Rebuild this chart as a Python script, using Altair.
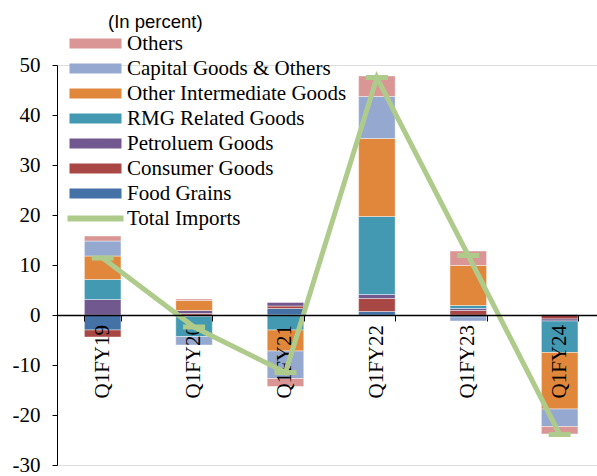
import altair as alt
import pandas as pd

categories = ["Q1FY19", "Q1FY20", "Q1FY21", "Q1FY22", "Q1FY23", "Q1FY24"]

food_grains = [-3.0, -0.3, 1.3, 0.7, -0.4, 0.1]
consumer_goods = [-1.4, 0.3, 0.5, 2.6, 0.9, -0.8]
petroleum_goods = [3.1, 0.6, 0.7, 0.8, 0.4, -0.4]
rmg_goods = [4.0, -4.0, -3.0, 15.6, 0.6, -6.3]
other_intermediate = [4.7, 2.0, -4.2, 15.6, 8.0, -11.3]
capital_goods = [3.0, -1.7, -5.5, 8.4, -0.8, -3.5]
others = [1.0, 0.3, -1.6, 4.1, 2.9, -1.5]
total_imports = [11.4, -2.4, -11.5, 47.5, 11.9, -23.9]

series_names = ["Food Grains", "Consumer Goods", "Petroluem Goods", "RMG Related Goods",
                "Other Intermediate Goods", "Capital Goods & Others", "Others"]
series_values = [food_grains, consumer_goods, petroleum_goods, rmg_goods,
                 other_intermediate, capital_goods, others]
series_colors = ["#4471a6", "#a94744", "#71598f", "#4299b1", "#e0873c", "#95a8d0", "#d99694"]
line_name = "Total Imports"
line_color = "#aecb8c"

rows = []
for i, (name, vals) in enumerate(zip(series_names, series_values)):
    for c, v in zip(categories, vals):
        rows.append({"category": c, "series": name, "value": v, "order": i})
bars_df = pd.DataFrame(rows)
line_df = pd.DataFrame({"category": categories, "value": total_imports, "series": line_name})

serif = "Liberation Serif"

x_enc = alt.X(
    "category:N", sort=categories,
    scale=alt.Scale(paddingInner=0.6, paddingOuter=0.254, align=0.59),
    axis=alt.Axis(title=None, labels=False, offset=-150, tickBand="extent", zindex=1,
                  domainColor="black", domainWidth=1.3, tickColor="black", tickSize=6),
)
y_scale = alt.Scale(domain=[-30, 50], nice=False)
y_axis = alt.Axis(title=None, values=list(range(-30, 51, 10)), grid=False,
                  labelExpr="'' + datum.value",
                  labelFont=serif, labelFontSize=21, labelColor="black",
                  domainColor="black", tickColor="black", tickSize=5, labelPadding=12)

legend_order = list(reversed(series_names))
color_order = list(reversed(series_colors))

bars = alt.Chart(bars_df).mark_bar(stroke="white", strokeWidth=0.6, strokeOpacity=0.7).encode(
    x=x_enc,
    y=alt.Y("value:Q", stack="zero", scale=y_scale, axis=y_axis),
    fill=alt.Fill("series:N", scale=alt.Scale(domain=legend_order, range=color_order),
                  legend=alt.Legend(title=None, orient="none", legendX=28, legendY=-32,
                                    symbolType="M-5.2,-1H5.2V1H-5.2Z", symbolSize=100,
                                    symbolStrokeWidth=0, labelFont=serif, labelFontSize=21,
                                    labelColor="black", labelOffset=21, rowPadding=3,
                                    labelLimit=400, padding=0)),
    order=alt.Order("order:Q"),
)

cat_labels = alt.Chart(line_df).mark_text(
    angle=270, align="right", baseline="middle", font=serif, fontSize=21,
    color="black", dx=-10,
).encode(
    x=alt.X("category:N", sort=categories),
    y=alt.datum(0),
    text="category:N",
)

line = alt.Chart(line_df).mark_line(strokeWidth=5).encode(
    x=alt.X("category:N", sort=categories),
    y=alt.Y("value:Q", scale=y_scale),
    stroke=alt.Stroke("series:N", scale=alt.Scale(domain=[line_name], range=[line_color]),
                      legend=alt.Legend(title=None, orient="none", legendX=28, legendY=143,
                                        symbolType="M-5.6,0H5.6", symbolSize=100,
                                        symbolStrokeWidth=6, labelFont=serif, labelFontSize=21,
                                        labelColor="black", labelOffset=21,
                                        labelLimit=400, padding=0)),
)

ticks = alt.Chart(line_df).mark_tick(size=22, thickness=5, color=line_color, opacity=1).encode(
    x=alt.X("category:N", sort=categories),
    y=alt.Y("value:Q", scale=y_scale),
)

chart = alt.layer(bars, cat_labels, line, ticks).properties(
    width=540, height=400,
    title=alt.TitleParams("(In percent)", anchor="start", dx=96, font="Liberation Sans",
                          fontSize=18.5, fontWeight="normal", color="black", offset=2),
    autosize=alt.AutoSizeParams(type="none"),
    padding={"left": 57, "top": 65, "right": 0, "bottom": 11},
).configure_view(stroke=None).configure(background="white")

chart.save("out.html", embed_options={"renderer": "svg", "actions": False})
